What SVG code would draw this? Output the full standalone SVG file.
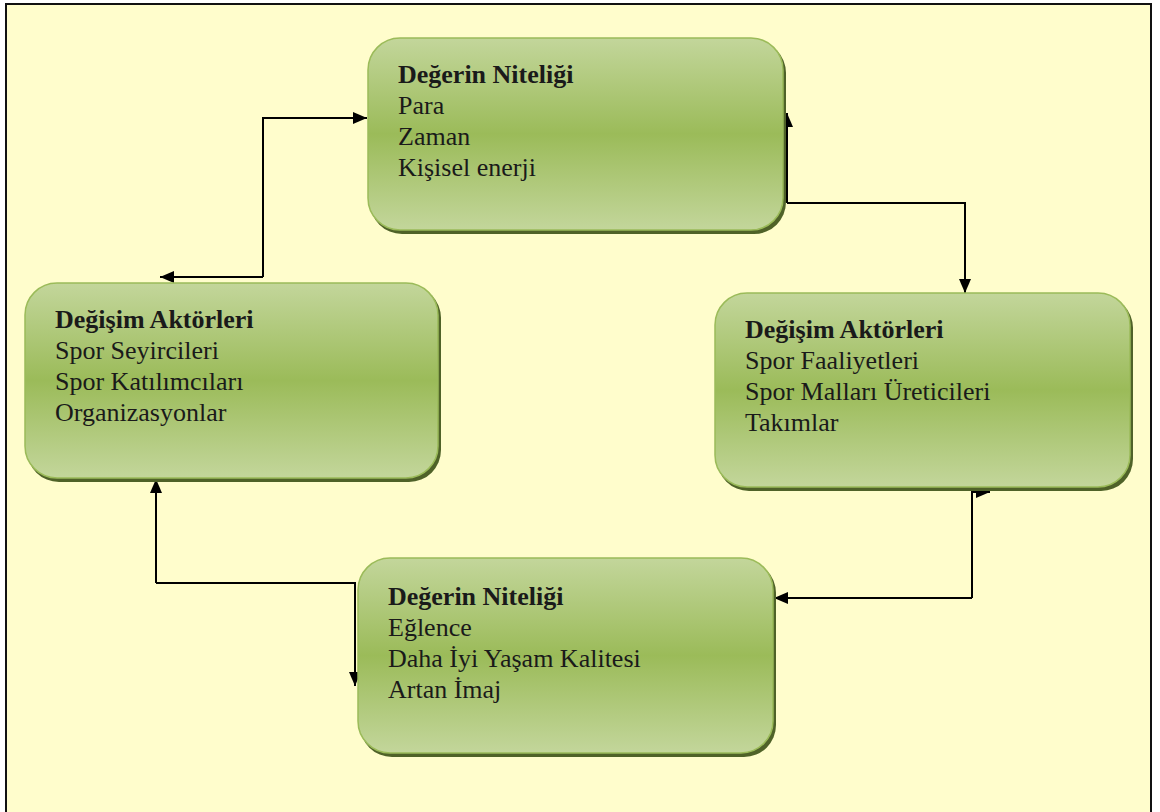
<svg xmlns="http://www.w3.org/2000/svg" width="1160" height="812" viewBox="0 0 1160 812">
<defs>
<linearGradient id="g" x1="0" y1="0" x2="0" y2="1">
<stop offset="0" stop-color="#C3D69B"/>
<stop offset="0.5" stop-color="#9BBB59"/>
<stop offset="1" stop-color="#C3D69B"/>
</linearGradient>
<marker id="ah" viewBox="0 0 14 12" refX="14" refY="6" markerWidth="14" markerHeight="12" markerUnits="userSpaceOnUse" orient="auto">
<path d="M0,0 L14,6 L0,12 Z" fill="#000"/>
</marker>
</defs>
<style>
.box{fill:url(#g);stroke:#9BBB59;stroke-width:1.5}
.sh{fill:#4F6228}
.t{font-family:"Liberation Serif","Times New Roman",serif;font-size:26px;fill:#1a1a1a}
.b{font-weight:bold}
.c{fill:none;stroke:#000;stroke-width:2}
</style>
<rect x="0" y="0" width="1160" height="812" fill="#ffffff"/>
<rect x="6" y="4" width="1145" height="820" fill="#FFFDCC" stroke="#111" stroke-width="2"/>
<g id="connectors">
<path class="c" d="M263,277 V118 H367" marker-end="url(#ah)"/>
<path class="c" d="M263,277 H160" marker-end="url(#ah)"/>
<path class="c" d="M787,203 V113" marker-end="url(#ah)"/>
<path class="c" d="M787,203 H965 V293" marker-end="url(#ah)"/>
<path class="c" d="M972,598 V492 H990" marker-end="url(#ah)"/>
<path class="c" d="M972,598 H774" marker-end="url(#ah)"/>
<path class="c" d="M156,583 V479" marker-end="url(#ah)"/>
<path class="c" d="M156,583 H355 V686" marker-end="url(#ah)"/>
</g>
<g id="node-top">
<rect class="sh" x="370" y="41" width="416" height="193" rx="32"/>
<rect class="box" x="368" y="38" width="415" height="192" rx="32"/>
<text class="t b" x="398" y="83">Değerin Niteliği</text>
<text class="t" x="398" y="114">Para</text>
<text class="t" x="398" y="145">Zaman</text>
<text class="t" x="398" y="176">Kişisel enerji</text>
</g>
<g id="node-left">
<rect class="sh" x="27" y="286" width="414" height="196" rx="32"/>
<rect class="box" x="25" y="283" width="413" height="195" rx="32"/>
<text class="t b" x="55" y="328">Değişim Aktörleri</text>
<text class="t" x="55" y="359">Spor Seyircileri</text>
<text class="t" x="55" y="390">Spor Katılımcıları</text>
<text class="t" x="55" y="421">Organizasyonlar</text>
</g>
<g id="node-right">
<rect class="sh" x="717" y="296" width="416" height="195" rx="32"/>
<rect class="box" x="715" y="293" width="415" height="194" rx="32"/>
<text class="t b" x="745" y="338">Değişim Aktörleri</text>
<text class="t" x="745" y="369">Spor Faaliyetleri</text>
<text class="t" x="745" y="400">Spor Malları Üreticileri</text>
<text class="t" x="745" y="431">Takımlar</text>
</g>
<g id="node-bottom">
<rect class="sh" x="360" y="561" width="416" height="196" rx="32"/>
<rect class="box" x="358" y="558" width="415" height="195" rx="32"/>
<text class="t b" x="388" y="605">Değerin Niteliği</text>
<text class="t" x="388" y="636">Eğlence</text>
<text class="t" x="388" y="667">Daha İyi Yaşam Kalitesi</text>
<text class="t" x="388" y="698">Artan İmaj</text>
</g>
</svg>
